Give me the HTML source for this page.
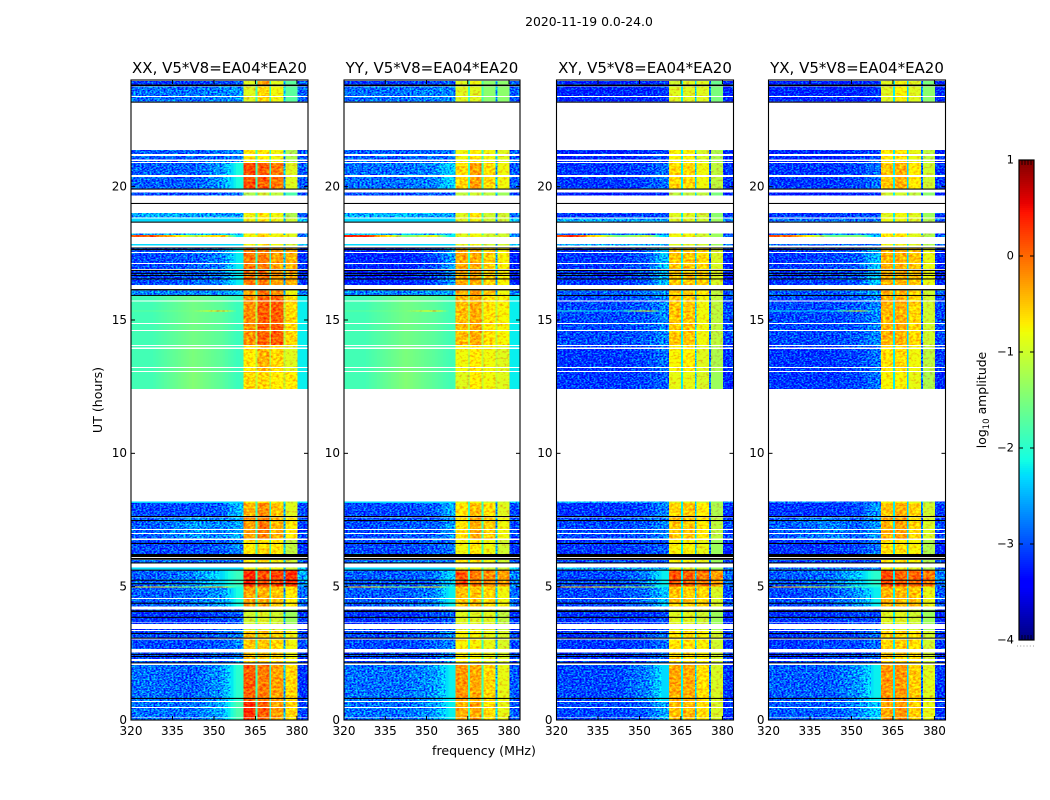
<!DOCTYPE html>
<html>
<head>
<meta charset="utf-8">
<title>UT vs frequency amplitude waterfall</title>
<style>
html,body{margin:0;padding:0;background:#fff;}
svg{display:block;font-family:"DejaVu Sans","Liberation Sans",sans-serif;fill:#000;}
</style>
</head>
<body>
<svg id="chart" xmlns="http://www.w3.org/2000/svg" width="1050" height="800" viewBox="0 0 1050 800">
<defs>
<filter id="speckle" x="0" y="0" width="1" height="1" color-interpolation-filters="sRGB">
<feTurbulence type="fractalNoise" baseFrequency="0.5 0.62" numOctaves="2" seed="4" result="t"/>
<feColorMatrix in="t" type="matrix" values="0 0 0 0 .5  2.2 0 0 0 -.55  0 0 0 0 .5  0 0 0 0 1" result="n"/>
<feComposite in="SourceGraphic" in2="n" operator="arithmetic" k1="0" k2="1" k3="1" k4="-.5" result="m"/>
<feComposite in="m" in2="SourceAlpha" operator="in"/>
</filter>
<filter id="speckle-soft" x="0" y="0" width="1" height="1" color-interpolation-filters="sRGB">
<feTurbulence type="fractalNoise" baseFrequency="0.3 0.45" numOctaves="2" seed="9" result="t"/>
<feColorMatrix in="t" type="matrix" values="0 0 0 0 .5  1.0 0 0 0 0  0 0 0 0 .5  0 0 0 0 1" result="n"/>
<feComposite in="SourceGraphic" in2="n" operator="arithmetic" k1="0" k2="1" k3="1" k4="-.5" result="m"/>
<feComposite in="m" in2="SourceAlpha" operator="in"/>
</filter>
</defs>
<rect width="1050" height="800" fill="#fff"/>
<text x="589" y="26" font-size="12.4" text-anchor="middle">2020-11-19 0.0-24.0</text>
<text x="484" y="755" font-size="12.6" text-anchor="middle">frequency (MHz)</text>
<text x="102" y="400" font-size="12.6" text-anchor="middle" transform="rotate(-90 102 400)">UT (hours)</text>
<text x="986" y="400" font-size="12.4" text-anchor="middle" transform="rotate(-90 986 400)">log<tspan font-size="8.6" dy="3">10</tspan><tspan dy="-3"> amplitude</tspan></text>
<g id="panels"></g>
<g id="colorbar"></g>
</svg>
<script>
// ---- data -------------------------------------------------------------
const panelTitles = ["XX, V5*V8=EA04*EA20","YY, V5*V8=EA04*EA20","XY, V5*V8=EA04*EA20","YX, V5*V8=EA04*EA20"];
const xTicks = [320,335,350,365,380];
const yTicks = [0,5,10,15,20];
const colorbarTicks = [1,0,-1,-2,-3,-4];
// channel bin edges in MHz: four background bins, then bands separated by gaps, then the upper edge
const freqEdges = [320,335,350,356,360.6,365.1,365.8,370,370.7,375.1,375.8,380.2,384];
// [start UT, end UT, spectrum index]
const segments = [
[23.96,23.83,0],[23.75,23.4,1],[23.36,23.19,1],
[21.375,21.225,2],[21.15,21.02,2],[20.97,20.92,2],
[20.88,20.44,3],[20.37,19.93,3],[19.79,19.66,4],
[19.01,18.84,5],[18.8,18.69,6],[18.25,18.12,7],[17.85,17.8,6],
[17.7,17.55,9],[17.51,17.14,9],[17.1,16.92,9],[16.88,16.31,9],
[16.1,15.94,10],[15.91,15.73,11],[15.69,14.89,11],[14.85,14.63,11],[14.59,14.06,11],
[14.02,13.96,12],[13.92,13.24,12],[13.2,13.09,12],[13.05,12.41,13],
[8.19,8.13,6],[8.13,7.65,14],[7.6,7.16,15],[7.12,7.01,15],[6.97,6.8,15],
[6.75,6.225,16],[6.0,5.91,17],[5.71,5.64,6],[5.6,4.99,18],[4.99,4.58,19],[4.54,4.25,19],
[4.15,3.66,21],[3.63,3.6,21],[3.41,3.37,21],[3.34,3.05,22],[3.01,2.66,22],
[2.54,2.29,22],[2.22,2.15,22],[2.07,0.71,23],[0.67,0.49,24],[0.45,0.1,24],[0.07,0,24],
[18.19,18.12,8],[5.01,4.96,20],[15.36,15.32,25]
];
// per-panel spectra: [320-335, 335-350, 350-356, 356-360.6, band1, band2, band3, band4, above 380] in log10 amplitude
const xxSpectra = [
[-3.2,-3.2,-3.1,-3,-.9,-.3,-.9,-1.7,-3],[-2.9,-2.9,-2.8,-2.7,-.9,-.6,-.8,-1.7,-3],
[-3,-3,-2.9,-2.8,-.7,-.7,-.8,-1.2,-3],[-3,-3,-2.7,-2.1,.15,.05,-.1,-.9,-3],
[-3.1,-3.1,-3,-2.9,-1.2,-1,-1.1,-1.8,-3.1],[-2.6,-2.6,-2.7,-2.7,-.8,-.7,-.8,-1.2,-3],
[-2.3,-2.3,-2.3,-2.3,-.8,-.7,-.8,-1,-2.4],[-2.6,-2.6,-2.5,-2.4,-.8,-.6,-.8,-.9,-2.9],
[.1,-1.2,-.4,-2.2,-.8,-.6,-.8,-.9,-2.9],[-3.1,-3,-2.8,-2.2,-.1,-.1,-.3,-.4,-3.2],
[-2.8,-2.8,-2.7,-2.5,-.4,-.1,-.2,-.8,-2.8],[-1.85,-1.55,-1.7,-1.9,-.2,.05,.05,-.6,-2.2],
[-1.85,-1.5,-1.7,-1.9,-.7,-.4,-.6,-.9,-2.2],[-1.85,-1.45,-1.7,-1.9,-.6,-.6,-.7,-.7,-2.2],
[-3.1,-3.1,-3,-2.5,-.4,-.2,-.5,-.9,-3.1],[-3,-2.7,-2.8,-2.6,-.3,-.1,-.4,-.7,-3.1],
[-3.1,-3.1,-3,-2.8,-.7,-.6,-.7,-1.1,-3.2],[-2.9,-2.9,-2.9,-2.9,-.7,-.7,-.8,-1,-3],
[-3,-2.8,-2.3,-1.9,.35,.15,.2,.3,-2.6],[-3,-2.9,-2.7,-2.1,-.3,-.4,-.5,-.7,-2.9],
[-.5,-1.4,-.2,-2,-.3,-.4,-.5,-.7,-2.9],[-3.2,-3.2,-3.1,-3,-1,-.9,-1,-1.3,-3.2],
[-3.1,-3.1,-3,-2.8,-.5,-.5,-.6,-.8,-3.1],[-2.9,-3,-2.7,-2,.05,-.1,-.3,-.6,-3.2],
[-2.9,-2.9,-2.6,-1.8,.3,.05,-.3,-.6,-3.1],[-1.7,-1.5,-.3,-1.9,-.2,.05,.05,-.6,-2.2]
];
const yySpectra = [
[-3.2,-3.2,-3.1,-3,-.9,-.8,-1.4,-1.4,-3],[-2.9,-2.9,-2.8,-2.8,-.9,-.9,-1.4,-1.4,-3],
[-3,-3,-2.9,-2.9,-.8,-.7,-.8,-.9,-3],[-2.9,-2.9,-2.8,-2.4,-.6,-.3,-.6,-.8,-3],
[-3.1,-3.1,-3,-3,-1.1,-1,-1.1,-1.3,-3.1],[-2.6,-2.5,-2.6,-2.7,-.9,-.7,-1,-1,-2.9],
[-2.3,-2.3,-2.3,-2.3,-.9,-.8,-1,-1,-2.4],[-2.5,-2.5,-2.5,-2.5,-.9,-.8,-1,-1,-2.8],
[.35,-1.5,-.8,-2.2,-.9,-.8,-1,-1,-2.8],[-3.3,-3.3,-3.1,-2.7,-.35,-.35,-.55,-.75,-3.3],
[-2.8,-2.8,-2.7,-2.6,-.4,-.3,-.5,-.8,-2.8],[-1.85,-1.55,-1.7,-1.85,-.45,-.35,-.65,-.75,-2.2],
[-1.85,-1.5,-1.7,-1.85,-.8,-.7,-.8,-.9,-2.2],[-1.85,-1.45,-1.7,-1.85,-.9,-.7,-.8,-.9,-2.2],
[-3.1,-3.1,-3,-2.6,-.65,-.45,-.65,-.9,-3.1],[-3.1,-3,-3,-2.7,-.65,-.35,-.55,-.8,-3.1],
[-3.1,-3.1,-3,-2.9,-.8,-.7,-.8,-1,-3.2],[-2.9,-2.9,-2.9,-2.9,-.7,-.7,-.8,-1,-3],
[-3,-3,-2.9,-2.4,.1,-.1,-.2,-.3,-2.8],[-3,-3,-2.8,-2.2,-.5,-.5,-.6,-.8,-2.9],
[-.5,-1.5,-.3,-2,-.5,-.5,-.6,-.8,-2.9],[-3.2,-3.2,-3.1,-3,-.9,-.9,-.9,-1.1,-3.2],
[-3.1,-3.1,-3,-2.8,-.75,-.75,-.85,-.95,-3.1],[-2.9,-2.9,-2.7,-2.2,-.25,-.35,-.6,-.85,-3],
[-2.9,-2.9,-2.7,-2.2,-.35,-.35,-.6,-.85,-3],[-1.7,-1.5,-.4,-1.9,-.45,-.35,-.65,-.75,-2.2]
];
const xySpectra = [
[-3.3,-3.3,-3.3,-3.2,-1,-.9,-.9,-1.6,-3.3],[-3.3,-3.3,-3.3,-3.2,-.9,-.9,-.9,-1.5,-3.3],
[-3.3,-3.3,-3.2,-3.1,-.75,-.75,-.95,-1.2,-3.3],[-3.2,-3.2,-3.1,-2.9,-.6,-.6,-.8,-1.1,-3.2],
[-3.4,-3.4,-3.3,-3.3,-1.1,-1.1,-1.1,-1.5,-3.4],[-3.2,-3.2,-3.1,-3.1,-.9,-.9,-1,-1.4,-3.2],
[-2.6,-2.6,-2.6,-2.6,-.9,-.9,-1,-1.3,-2.8],[-2.9,-2.9,-2.9,-2.8,-.8,-.8,-1,-1.3,-3],
[.2,-1.6,-1,-2.4,-.8,-.8,-1,-1.3,-3],[-3.2,-3.2,-3,-2.5,-.5,-.5,-.6,-.95,-3.3],
[-3,-3,-2.9,-2.7,-.5,-.5,-.7,-1.1,-3],[-3.1,-3.1,-3,-2.8,-.5,-.5,-.8,-1.1,-3.1],
[-3.2,-3.2,-3.1,-2.9,-.75,-.7,-.9,-1.2,-3.2],[-3.2,-3.2,-3.1,-3,-.85,-.85,-.95,-1.3,-3.3],
[-3.2,-3.2,-3.1,-2.8,-.6,-.5,-.7,-1.2,-3.2],[-3.1,-3.1,-3,-2.8,-.5,-.5,-.7,-1.1,-3.1],
[-3.2,-3.2,-3.1,-3,-.75,-.75,-.85,-1.3,-3.3],[-3.1,-3.1,-3.1,-3.1,-.75,-.75,-.85,-1.3,-3.1],
[-3.1,-3.1,-2.8,-2.2,.1,0,-.1,-.3,-2.9],[-3.1,-3.1,-2.9,-2.5,-.5,-.55,-.6,-.95,-3.1],
[-.3,-1,-1.2,-2.2,-.5,-.55,-.6,-.95,-3.1],[-3.2,-3.2,-3.2,-3.1,-.9,-.9,-1,-1.3,-3.3],
[-3.2,-3.2,-3.1,-2.9,-.65,-.65,-.75,-1,-3.2],[-3.1,-3.1,-2.8,-2.3,-.35,-.35,-.65,-.95,-3.2],
[-3.1,-3.1,-3,-2.6,-.45,-.45,-.65,-.95,-3.2],[-2.1,-2.4,-.4,-2.5,-.5,-.5,-.8,-1.1,-3.1]
];
const yxSpectra = [
[-3.3,-3.3,-3.3,-3.2,-.9,-.8,-.9,-1.5,-3.3],[-3.3,-3.3,-3.3,-3.2,-.9,-.75,-.9,-1.4,-3.3],
[-3.3,-3.3,-3.2,-3.1,-.7,-.65,-.85,-1.1,-3.3],[-3.2,-3.2,-3.1,-2.9,-.5,-.4,-.7,-1,-3.2],
[-3.4,-3.4,-3.3,-3.3,-1,-1,-1.1,-1.4,-3.4],[-3.2,-3.2,-3.1,-3.1,-.9,-.8,-.9,-1.3,-3.2],
[-2.9,-2.9,-2.9,-2.9,-.8,-.8,-.9,-1.2,-3],[-3,-2.9,-2.9,-2.8,-.7,-.7,-.9,-1.2,-3],
[0,-1.6,-1.4,-2.4,-.7,-.7,-.9,-1.2,-3],[-3.2,-3.1,-3,-2.5,-.4,-.4,-.5,-.85,-3.3],
[-3,-3,-2.9,-2.6,-.4,-.4,-.6,-1,-3],[-3.1,-3.1,-3,-2.8,-.4,-.4,-.6,-1,-3.1],
[-3.2,-3.2,-3.1,-2.9,-.65,-.6,-.8,-1.1,-3.2],[-3.2,-3.2,-3.1,-2.9,-.75,-.75,-.85,-1.2,-3.3],
[-3.2,-3.2,-3.1,-2.7,-.5,-.4,-.6,-1,-3.2],[-3,-2.8,-3,-2.7,-.4,-.3,-.6,-.95,-3.1],
[-3.2,-3.2,-3.1,-2.9,-.65,-.65,-.75,-1.2,-3.3],[-3.1,-3.1,-3.1,-3.1,-.65,-.65,-.75,-1.2,-3.1],
[-3,-2.9,-2.4,-2,.15,.05,0,-.1,-2.8],[-3.1,-3,-2.7,-2.2,-.4,-.45,-.5,-.85,-3],
[-.3,-1.2,-1.7,-2.1,-.4,-.45,-.5,-.85,-3],[-3.2,-3.2,-3.1,-3.1,-.9,-.9,-1,-1.3,-3.3],
[-3.2,-3.1,-3.1,-2.9,-.55,-.55,-.65,-1,-3.2],[-3,-3,-2.7,-2.2,-.25,-.25,-.55,-.9,-3.2],
[-3,-3,-2.8,-2.4,-.35,-.25,-.55,-.85,-3.2],[-2.2,-2.4,-.6,-2.5,-.4,-.4,-.6,-1,-3.1]
];
const panelSpectra = [xxSpectra, yySpectra, xySpectra, yxSpectra];
const gapLevels = [[-1.9,-2,-2.5],[-1.9,-1.9,-2.5],[-2.2,-2.4,-2.9],[-2.2,-2.3,-2.9]];
// fully flagged integrations rendered black: [start UT, end UT]
const blackRows = [
[23.83,23.77],[23.19,23.15],[19.93,19.89],[19.39,19.35],[18.69,18.65],[17.72,17.68],[17.66,17.62],
[16.88,16.84],[16.77,16.73],[16.69,16.65],[16.56,16.52],[16.16,16.11],[15.94,15.91],
[7.65,7.61],[7.5,7.46],[6.64,6.6],[6.225,6.11],[6.075,6.01],[5.91,5.87],[5.64,5.6],[5.26,5.24],[5.13,5.09],
[4.4,4.36],[4.11,4.05],[3.87,3.83],[3.26,3.24],[3.09,3.05],[2.48,2.45],[2.4,2.37],[2.16,2.13],[0.83,0.79]
];

// ---- geometry ---------------------------------------------------------
const axisLeft = [131,344,556.5,768.5];
const axisWidth = [177,176,177,177];
const axisTop = 80, axisBottom = 720;
const hoursMax = 24, freqMin = 320, freqMax = 384;
const vMin = -4, vMax = 1;
const cbLeft = 1019, cbRight = 1034, cbTop = 160, cbBottom = 640;
const shadeStep = 1; // MHz width of shaded background sub-cells
const NS = "http://www.w3.org/2000/svg";

function xScale(p, f){ return axisLeft[p] + (f - freqMin) * axisWidth[p] / (freqMax - freqMin); }
function yScale(h){ return axisBottom - h * (axisBottom - axisTop) / hoursMax; }
function cbScale(v){ return cbBottom - (v - vMin) * (cbBottom - cbTop) / (vMax - vMin); }
function ramp(x, pts){
  if(x<=pts[0][0]) return pts[0][1];
  for(let i=1;i<pts.length;i++){ if(x<=pts[i][0]){ const a=pts[i-1],b=pts[i]; return a[1]+(b[1]-a[1])*(x-a[0])/(b[0]-a[0]); } }
  return pts[pts.length-1][1];
}
function jet(v){
  const t=Math.max(0,Math.min(1,(v-vMin)/(vMax-vMin)));
  const r=ramp(t,[[0,0],[.35,0],[.66,1],[.89,1],[1,.5]]);
  const g=ramp(t,[[0,0],[.125,0],[.375,1],[.64,1],[.91,0],[1,0]]);
  const b=ramp(t,[[0,.5],[.11,1],[.34,1],[.65,0],[1,0]]);
  return "rgb("+Math.round(r*255)+","+Math.round(g*255)+","+Math.round(b*255)+")";
}
function mk(tag, parent, attrs){
  const el=document.createElementNS(NS,tag);
  for(const k in attrs) el.setAttribute(k,attrs[k]);
  parent.appendChild(el);
  return el;
}
function fmt(v){ return String(v).replace("-","\u2212"); }

// ---- panels -----------------------------------------------------------
const panelsRoot=document.getElementById("panels");
panelTitles.forEach(function(title,p){
  const panel=mk("g",panelsRoot,{});
  
  

  const noisy=mk("g",panel,{filter:"url(#speckle)","shape-rendering":"crispEdges"});
  
  
  const smooth=mk("g",panel,{"shape-rendering":"crispEdges"});
  
  
  const bright=mk("g",panel,{filter:"url(#speckle-soft)","shape-rendering":"crispEdges"});
  
  

  function addCell(f0,f1,h0,h1,v){
    const x0=xScale(p,f0), x1=xScale(p,f1);
    const y0=yScale(h0), y1=yScale(h1);
    const target = v < -2.35 ? noisy : (v > -1.3 ? bright : smooth);
    const cell=mk("rect",target,{x:x0.toFixed(2),y:y0.toFixed(2),width:(x1-x0).toFixed(2),height:Math.max(y1-y0,1).toFixed(2),fill:jet(v)});
    
    
  }

  segments.forEach(function(seg){
    const spec=panelSpectra[p][seg[2]];
    const gaps=gapLevels[p];
    // background bins are drawn with shading between bin centres
    const nodes=[0,1,2,3].map(function(i){ return [(freqEdges[i]+freqEdges[i+1])/2, spec[i]]; });
    for(let f=freqEdges[0]; f<freqEdges[4]; f+=shadeStep){
      const f1=Math.min(f+shadeStep,freqEdges[4]);
      addCell(f,f1,seg[0],seg[1],ramp((f+f1)/2,nodes));
    }
    const lift = spec[1] > -2.2 ? spec[1]+.4 : -9;
    const rest=[spec[4],Math.max(gaps[0],lift),spec[5],Math.max(gaps[1],lift),spec[6],Math.max(gaps[2],lift),spec[7],spec[8]];
    rest.forEach(function(v,k){
      addCell(freqEdges[k+4],freqEdges[k+5],seg[0],seg[1],v);
    });
  });

  blackRows.forEach(function(r){
    const y0=yScale(r[0]), y1=yScale(r[1]);
    const line=mk("rect",panel,{x:axisLeft[p],y:y0.toFixed(2),width:axisWidth[p],height:Math.max(y1-y0,1).toFixed(2),fill:"#000"});
    
    
  });

  const frame=mk("rect",panel,{x:axisLeft[p],y:axisTop,width:axisWidth[p],height:axisBottom-axisTop,fill:"none",stroke:"#000","stroke-width":1.1});
  
  

  xTicks.forEach(function(t){
    const x=xScale(p,t);
    const tb=mk("line",panel,{x1:x,x2:x,y1:axisBottom,y2:axisBottom-4,stroke:"#000"});
    
    
    const tt=mk("line",panel,{x1:x,x2:x,y1:axisTop,y2:axisTop+4,stroke:"#000"});
    
    
    const lab=mk("text",panel,{x:x,y:735,"font-size":12,"text-anchor":"middle"});
    lab.textContent=t;
    
    
  });
  yTicks.forEach(function(t){
    const y=yScale(t);
    const tl=mk("line",panel,{x1:axisLeft[p],x2:axisLeft[p]+4,y1:y,y2:y,stroke:"#000"});
    
    
    const tr=mk("line",panel,{x1:axisLeft[p]+axisWidth[p],x2:axisLeft[p]+axisWidth[p]-4,y1:y,y2:y,stroke:"#000"});
    
    
    const lab=mk("text",panel,{x:axisLeft[p]-4,y:y+3.8,"font-size":12,"text-anchor":"end"});
    lab.textContent=t;
    
    
  });
  const ttl=mk("text",panel,{x:axisLeft[p]+axisWidth[p]/2,y:73,"font-size":15,"text-anchor":"middle"});
  ttl.textContent=title;
  
  
});

// ---- colorbar ---------------------------------------------------------
const cb=document.getElementById("colorbar");
const cbGrad=mk("g",cb,{"shape-rendering":"crispEdges"});


for(let py=cbTop;py<cbBottom;py+=2){
  const v=vMax-(py+1-cbTop)*(vMax-vMin)/(cbBottom-cbTop);
  mk("rect",cbGrad,{x:cbLeft,y:py,width:cbRight-cbLeft,height:2,fill:jet(v)});
}
const cbFrame=mk("rect",cb,{x:cbLeft,y:cbTop,width:cbRight-cbLeft,height:cbBottom-cbTop,fill:"none",stroke:"#000","stroke-width":1.2});


colorbarTicks.forEach(function(t){
  const y=cbScale(t);
  if(t!==vMax && t!==vMin){
    const a=mk("line",cb,{x1:cbLeft,x2:cbLeft+4,y1:y,y2:y,stroke:"#000"});
    
    
    const b=mk("line",cb,{x1:cbRight,x2:cbRight-4,y1:y,y2:y,stroke:"#000"});
    
    
  }
  const lab=mk("text",cb,{x:1014,y:y+3.5,"font-size":11.5,"text-anchor":"end"});
  lab.textContent=fmt(t);
  
  
});
[0,1,2,3,4,5].forEach(function(i){
  const x=cbLeft+i*(cbRight-cbLeft)/5;
  const m1=mk("line",cb,{x1:x,x2:x,y1:cbTop,y2:cbTop+5,stroke:"#000","stroke-width":.8});
  
  
  const m2=mk("line",cb,{x1:x,x2:x,y1:cbBottom,y2:cbBottom-5,stroke:"#000","stroke-width":.8});
  
  
});
const dots=mk("line",cb,{x1:1017,x2:1035,y1:646,y2:646,stroke:"#999","stroke-dasharray":"1 2.2"});


</script>
</body>
</html>
